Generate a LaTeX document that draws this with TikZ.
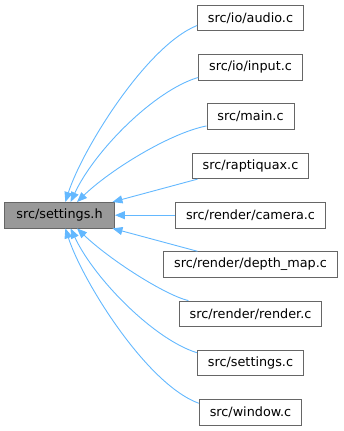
\documentclass[tikz,border=0pt]{standalone}
\usepackage{fontspec}
\setmainfont{DejaVu Sans}
\usetikzlibrary{positioning, arrows.meta}
\definecolor{edgeblue}{HTML}{63B8FF}
\definecolor{boxline}{HTML}{666666}
\definecolor{headfill}{HTML}{999999}
\tikzset{
    file/.style={draw=boxline, line width=0.9pt, minimum height=25.5pt, inner xsep=10.5pt, font=\fontsize{12.8}{15}\selectfont}, % one box per source file
    header/.style={file, fill=headfill, minimum width=110pt}, % the header that is included
    dep/.style={edgeblue, line width=0.9pt, <-}, % arrows point back to the header
    >={Triangle[length=10pt, width=8pt]}, % filled doxygen-like heads
    node distance=49.3pt, % row pitch of the right column
    on grid,
}

\begin{document}
\begin{tikzpicture}[x=1pt, y=-1pt]
    \useasboundingbox (0,0) rectangle (343,431);
    \node[file] (audio) at (250.5,18) {src/io/audio.c};
    \node[file, below=of audio] (input) {src/io/input.c};
    \node[file, below=of input] (main) {src/main.c};
    \node[file, below=of main] (raptiquax) {src/raptiquax.c};
    \node[file, below=of raptiquax] (camera) {src/render/camera.c};
    \node[file, below=of camera] (depthmap) {src/render/depth\_map.c};
    \node[file, below=of depthmap] (render) {src/render/render.c};
    \node[file, below=of render] (settingsc) {src/settings.c};
    \node[file, below=of settingsc] (window) {src/window.c};
    \node[header, left=191pt of camera] (settingsh) {src/settings.h};
    % upper fan
    \draw[dep] (settingsh.66) .. controls (82,150) and (146,46) .. (audio.188);
    \draw[dep] (settingsh.50) .. controls (95,150) and (155,90) .. (input.191);
    \draw[dep] (settingsh.37) .. controls (110,170) and (170,133) .. (main.192);
    \draw[dep] (settingsh.14) -- (raptiquax.194);
    \draw[dep] (settingsh.east) -- (camera.west);
    % lower fan
    \draw[dep] (settingsh.-14) -- (depthmap.166);
    \draw[dep] (settingsh.-37) .. controls (110,260) and (165,295) .. (render.168);
    \draw[dep] (settingsh.-50) .. controls (95,280) and (155,340) .. (settingsc.169);
    \draw[dep] (settingsh.-66) .. controls (82,280) and (146,384) .. (window.170);
\end{tikzpicture}
\end{document}
